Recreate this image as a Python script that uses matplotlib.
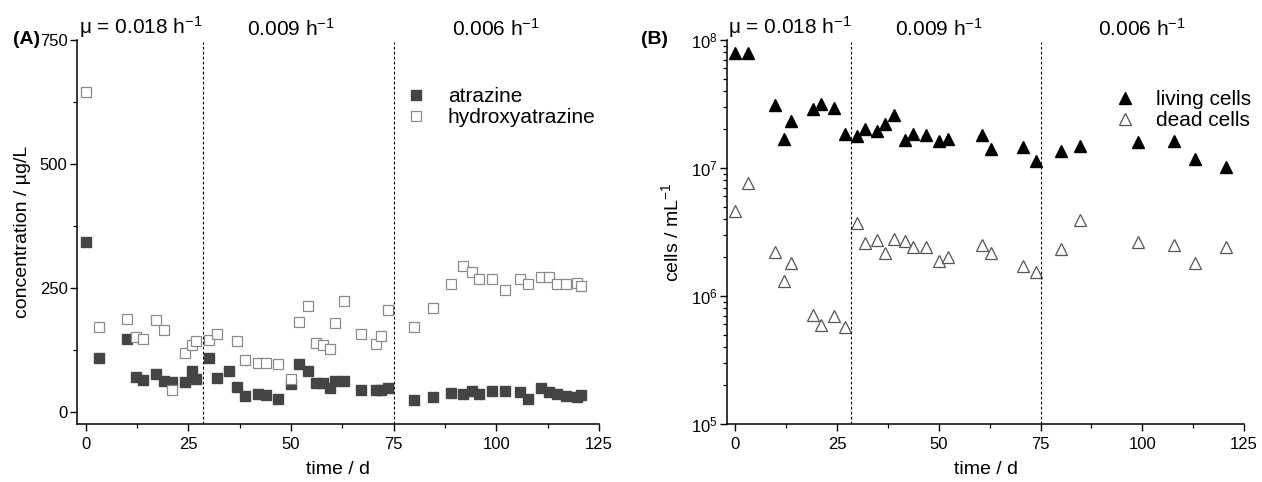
import numpy as np
import matplotlib
matplotlib.use("Agg")
import matplotlib.pyplot as plt
from matplotlib.ticker import MultipleLocator, LogLocator, NullFormatter

plt.rcParams["font.family"] = ["Liberation Sans", "DejaVu Sans"]
plt.rcParams["mathtext.fontset"] = "custom"
plt.rcParams["mathtext.rm"] = "Liberation Sans"
plt.rcParams["mathtext.it"] = "Liberation Sans:italic"
plt.rcParams["mathtext.default"] = "regular"

# -----------------------------
# (A) atrazine / hydroxyatrazine in the effluent (µg/L)
# -----------------------------
atz_day = [0.0, 3.2, 10.1, 12.2, 14.0, 17.1, 19.1, 21.1, 24.1, 26.0, 27.0, 30.0,
           32.0, 34.8, 36.9, 38.8, 41.9, 43.9, 46.9, 50.1, 52.0, 54.1, 56.0, 57.8,
           59.6, 60.7, 62.9, 67.0, 70.7, 71.9, 73.7, 79.9, 84.6, 88.9, 91.8, 94.0,
           95.8, 98.9, 102.1, 105.8, 107.6, 110.8, 112.8, 114.7, 116.9, 119.6, 120.6]
atz_conc = [343, 110, 147, 71, 65, 76, 63, 61, 61, 82, 66, 110,
            69, 83, 51, 33, 36, 34, 26, 56, 97, 83, 58, 58,
            48, 62, 63, 44, 45, 45, 48, 24, 30, 38, 36, 42,
            36, 43, 43, 41, 26, 48, 41, 36, 32, 31, 34]

hya_day = [0.0, 3.2, 10.1, 12.2, 14.0, 17.1, 19.1, 21.1, 24.1, 26.0, 27.0, 30.0,
           32.0, 36.9, 38.8, 41.9, 43.9, 46.9, 50.1, 52.0, 54.1, 56.0, 57.8,
           59.6, 60.7, 62.9, 67.0, 70.7, 71.9, 73.7, 79.9, 84.6, 88.9, 91.8, 94.0,
           95.8, 98.9, 102.1, 105.8, 107.6, 110.8, 112.8, 114.7, 116.9, 119.6, 120.6]
hya_conc = [646, 172, 187, 151, 147, 185, 165, 45, 120, 135, 144, 145,
            157, 144, 105, 99, 98, 97, 66, 182, 213, 140, 136,
            127, 179, 224, 158, 137, 153, 205, 172, 209, 259, 295, 283,
            268, 269, 246, 268, 258, 272, 272, 259, 258, 261, 254]

# -----------------------------
# (B) living / dead cell counts (cells/mL)
# -----------------------------
cell_day = [0.0, 3.1, 9.9, 12.1, 13.8, 19.0, 21.2, 24.3, 26.9, 30.0, 32.0, 34.8,
            36.7, 38.9, 41.8, 43.8, 46.8, 50.1, 52.2, 60.7, 62.9, 70.7, 73.8,
            80.0, 84.8, 99.0, 107.7, 113.0, 120.6]
living = [7.9e7, 7.85e7, 3.1e7, 1.7e7, 2.35e7, 2.9e7, 3.15e7, 2.95e7, 1.86e7,
          1.78e7, 2.0e7, 1.96e7, 2.2e7, 2.6e7, 1.66e7, 1.86e7, 1.8e7, 1.64e7,
          1.68e7, 1.8e7, 1.41e7, 1.46e7, 1.13e7, 1.37e7, 1.48e7, 1.59e7,
          1.62e7, 1.17e7, 1.02e7]
dead = [4.6e6, 7.6e6, 2.22e6, 1.32e6, 1.8e6, 7.1e5, 5.96e5, 7.0e5, 5.75e5,
        3.7e6, 2.58e6, 2.75e6, 2.16e6, 2.79e6, 2.71e6, 2.4e6, 2.4e6, 1.89e6,
        2.0e6, 2.51e6, 2.16e6, 1.71e6, 1.53e6, 2.33e6, 3.95e6, 2.63e6,
        2.51e6, 1.8e6, 2.4e6]

# dilution-rate phases
phase_switch = [28.5, 75]
phase_x = [13.5, 50, 100]
phase_labels = ["\u03bc = 0.018 h$^{-1}$", "0.009 h$^{-1}$", "0.006 h$^{-1}$"]

fig = plt.figure(figsize=(12.62, 4.82), dpi=100)
axA = fig.add_axes([0.0613, 0.1203, 0.4134, 0.7967])
axB = fig.add_axes([0.5761, 0.1203, 0.4097, 0.7967])


def style_axes(ax):
    for s in ("top", "right"):
        ax.spines[s].set_visible(False)
    for s in ("left", "bottom"):
        ax.spines[s].set_linewidth(1.1)
    ax.tick_params(which="major", direction="out", length=5, width=1.0,
                   labelsize=12, pad=2)
    ax.tick_params(which="minor", direction="out", length=3, width=0.9)
    ax.tick_params(axis="x", which="major", pad=4)
    ax.set_xlim(-2, 125)
    ax.xaxis.set_major_locator(MultipleLocator(25))
    ax.xaxis.set_minor_locator(MultipleLocator(12.5))
    ax.set_xlabel("time / d", fontsize=14, labelpad=7)
    for xv in phase_switch:
        ax.axvline(xv, ymin=0, ymax=0.995, color="black", lw=0.8,
                   ls=(0, (2.5, 2)))
    for xv, lab in zip(phase_x, phase_labels):
        ax.text(xv, 1.0, lab, transform=ax.get_xaxis_transform(),
                ha="center", va="bottom", fontsize=15)


# ---- panel A ----
axA.plot(atz_day, atz_conc, ls="none", marker="s", ms=7, mfc="#444444",
         mec="#444444", label="atrazine")
axA.plot(hya_day, hya_conc, ls="none", marker="s", ms=7, mfc="white",
         mec="#8a8a8a", mew=0.9, label="hydroxyatrazine")
axA.set_ylim(-24, 750)
axA.yaxis.set_major_locator(MultipleLocator(250))
axA.yaxis.set_minor_locator(MultipleLocator(125))
axA.set_ylabel("concentration / \u00b5g/L", fontsize=14, labelpad=6)
style_axes(axA)
axA.legend(loc="upper left", bbox_to_anchor=(0.630, 0.878), frameon=False,
           fontsize=15, handlelength=1.0, handletextpad=1.0, labelspacing=0.1,
           borderpad=0, borderaxespad=0)
fig.text(0.010, 0.918, "(A)", fontsize=14, fontweight="bold", va="center")

# ---- panel B ----
axB.semilogy(cell_day, living, ls="none", marker="^", ms=8.5, mfc="black",
             mec="black", label="living cells")
axB.semilogy(cell_day, dead, ls="none", marker="^", ms=8.5, mfc="white",
             mec="#555555", mew=0.9, label="dead cells")
axB.set_ylim(1e5, 1e8)
axB.yaxis.set_major_locator(LogLocator(base=10, numticks=10))
axB.yaxis.set_minor_locator(LogLocator(base=10, subs=np.arange(2, 10), numticks=10))
axB.yaxis.set_minor_formatter(NullFormatter())
axB.set_ylabel("cells / mL$^{-1}$", fontsize=14, labelpad=6)
style_axes(axB)
axB.legend(loc="upper left", bbox_to_anchor=(0.749, 0.870), frameon=False,
           fontsize=15, handlelength=1.0, handletextpad=1.0, labelspacing=0.1,
           borderpad=0, borderaxespad=0)
fig.text(0.508, 0.918, "(B)", fontsize=14, fontweight="bold", va="center")

fig.savefig("out.png", dpi=100)
